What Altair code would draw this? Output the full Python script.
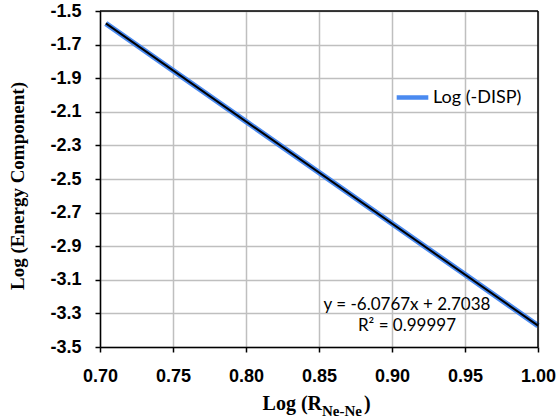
import altair as alt
import pandas as pd

# Data
x_vals = [0.704, 0.75, 0.80, 0.85, 0.90, 0.95, 1.00]
y_vals = [-1.574, -1.854, -2.158, -2.461, -2.765, -3.069, -3.373]
trend_x = [0.704, 1.00]
trend_y = [-1.574, -3.373]
series_name = "Log (-DISP)"
eq_lines = ["y = -6.0767x + 2.7038", "R² = 0.99997"]
x_ticks = [0.70, 0.75, 0.80, 0.85, 0.90, 0.95, 1.00]
y_ticks = [-3.5, -3.3, -3.1, -2.9, -2.7, -2.5, -2.3, -2.1, -1.9, -1.7, -1.5]

df = pd.DataFrame({"x": x_vals, "y": y_vals, "s": [series_name] * len(x_vals)})
tdf = pd.DataFrame({"x": trend_x, "y": trend_y})

W, H = 438, 336
LBL_FONT = "Lato"
TICK_FONT = "Liberation Sans"

xscale = alt.Scale(domain=[0.70, 1.00], nice=False, zero=False)
yscale = alt.Scale(domain=[-3.5, -1.5], nice=False, zero=False)

xaxis = alt.Axis(
    values=x_ticks, format=".2f", title=None,
    grid=True, gridColor="#bfbfbf", gridWidth=1.5,
    domainColor="black", domainWidth=1.5, tickColor="black", tickWidth=1.5, tickSize=5,
    labelFont=TICK_FONT, labelFontWeight="bold", labelFontSize=18, labelColor="black",
    labelPadding=15, labelFlush=False, labelOverlap=False,
)
yaxis = alt.Axis(
    values=y_ticks, format=".1f", title=None,
    labelExpr="replace(datum.label, '\u2212', '-')",
    grid=True, gridColor="#bfbfbf", gridWidth=1.5,
    domainColor="black", domainWidth=1.5, tickColor="black", tickWidth=1.5, tickSize=5,
    labelFont=TICK_FONT, labelFontWeight="bold", labelFontSize=18, labelColor="black",
    labelPadding=14, labelOverlap=False,
)

series = alt.Chart(df).mark_line(strokeWidth=5.5).encode(
    x=alt.X("x:Q", scale=xscale, axis=xaxis),
    y=alt.Y("y:Q", scale=yscale, axis=yaxis),
    color=alt.Color("s:N", scale=alt.Scale(domain=[series_name], range=["#4a8af0"]),
                    legend=alt.Legend(title=None, orient="none", legendX=294, legendY=68,
                                      symbolType="stroke", symbolSize=1000, symbolStrokeWidth=4.5,
                                      labelFont=LBL_FONT, labelFontSize=18, labelColor="black",
                                      labelOffset=2, padding=0)),
)

trend = alt.Chart(tdf).mark_line(color="black", strokeWidth=2).encode(
    x=alt.X("x:Q", scale=xscale, axis=xaxis), y=alt.Y("y:Q", scale=yscale, axis=yaxis)
)

# black frame on top and right edges (drawn over the grey grid lines)
frame_top = alt.Chart(pd.DataFrame({"k": [0]})).mark_rule(color="black", strokeWidth=1.5).encode(
    x=alt.value(0), x2=alt.value(W), y=alt.value(0))
frame_right = alt.Chart(pd.DataFrame({"k": [0]})).mark_rule(color="black", strokeWidth=1.5).encode(
    x=alt.value(W), y=alt.value(0), y2=alt.value(H))

def txt(t, x, y, **kw):
    return alt.Chart(pd.DataFrame({"t": [t]})).mark_text(color="black", **kw).encode(
        text="t:N", x=alt.value(x), y=alt.value(y))

eq1 = txt(eq_lines[0], 307, 294, font=LBL_FONT, fontSize=17, align="center", baseline="middle")
eq2 = txt(eq_lines[1], 307, 315, font=LBL_FONT, fontSize=17, align="center", baseline="middle")

title_main = txt("Log (R", 222, 399, font="Liberation Serif", fontWeight="bold", fontSize=20,
                 align="right", baseline="alphabetic")
title_sub = txt("Ne-Ne", 222, 405, font="Liberation Serif", fontWeight="bold", fontSize=15,
                align="left", baseline="alphabetic")
title_close = txt(")", 264, 399, font="Liberation Serif", fontWeight="bold", fontSize=20,
                  align="left", baseline="alphabetic")
ytitle = txt("Log (Energy Component)", -82, 175, font="Liberation Serif", fontWeight="bold",
             fontSize=19, align="center", baseline="middle", angle=270)

chart = alt.layer(series, trend, frame_top, frame_right, eq1, eq2,
                  title_main, title_sub, title_close, ytitle).properties(
    width=W, height=H,
    autosize=alt.AutoSizeParams(type="none"),
    padding={"left": 100, "top": 11, "right": 20, "bottom": 73},
).configure_view(stroke="black", strokeWidth=1.5).configure(background="white")

chart.save("out.html", embed_options={"renderer": "svg", "actions": False})
